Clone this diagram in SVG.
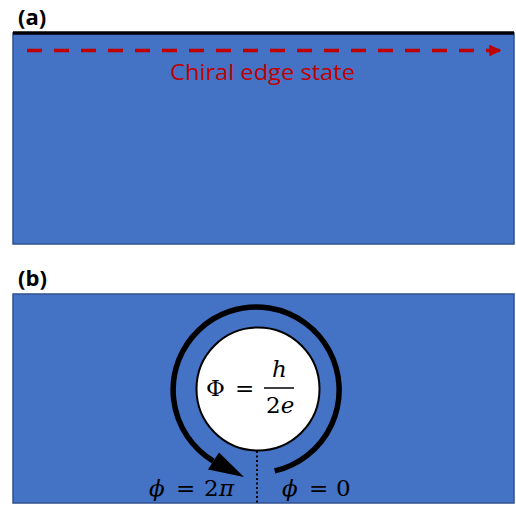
<svg xmlns="http://www.w3.org/2000/svg" width="516" height="508" viewBox="0 0 516 508">
<defs>
<style>
.panel{fill:#4472c4;stroke:#2f528f;stroke-width:1.5}
.lbl{font-family:"Open Sans","Liberation Sans",sans-serif;font-weight:bold;font-size:22px;fill:#000}
.math{font-family:"DejaVu Serif","Liberation Serif",serif;font-size:23px;fill:#000}
.it{font-style:italic}
</style>
<marker id="redArrow" viewBox="0 0 10 10" refX="9" refY="5" markerWidth="4" markerHeight="3.4" orient="auto" markerUnits="strokeWidth">
<path d="M0,0 L10,5 L0,10 Z" fill="#c00000"/>
</marker>
</defs>
<g id="panel-a">
<text class="lbl" x="18" y="25">(a)</text>
<rect class="panel" x="13" y="33" width="501" height="211"/>
<line x1="13" y1="33" x2="514" y2="33" stroke="#000" stroke-width="3.5"/>
<text x="170" y="80" font-family="Open Sans, Liberation Sans, sans-serif" font-size="21" fill="#c00000" textLength="185" lengthAdjust="spacingAndGlyphs">Chiral edge state</text>
</g>
<g id="panel-b">
<text class="lbl" x="18" y="286">(b)</text>
<rect class="panel" x="13" y="294" width="501" height="209"/>
</g>
<g id="flux">
<circle cx="258" cy="389" r="61.5" fill="#fff" stroke="#000" stroke-width="2"/>
<text class="math" x="206" y="396">Φ</text>
<text class="math" x="235" y="396">=</text>
<text class="math it" x="272" y="377">h</text>
<line x1="264" y1="388" x2="294" y2="388" stroke="#000" stroke-width="1.5"/>
<text class="math" x="266" y="413">2<tspan class="it">e</tspan></text>
</g>
<g id="labels">
<text class="math it" x="149" y="496">ϕ</text>
<text class="math" x="176" y="496">=</text>
<text class="math" x="204" y="496">2</text>
<text class="math it" x="219" y="496">π</text>
<text class="math it" x="282" y="496">ϕ</text>
<text class="math" x="309" y="496">=</text>
<text class="math" x="336" y="496">0</text>
</g>
<g id="connectors">
<line x1="27" y1="50.5" x2="500" y2="50.5" stroke="#c00000" stroke-width="3.5" stroke-dasharray="15 12" marker-end="url(#redArrow)"/>
<path d="M274.7,470.9 A83,83 0 1 0 213.3,461.1" fill="none" stroke="#000" stroke-width="5.5"/>
<polygon points="219,452.5 208,469.5 244,477" fill="#000"/>
<line x1="257" y1="451" x2="257" y2="503" stroke="#000" stroke-width="2" stroke-dasharray="2 2.5"/>
</g>
</svg>
